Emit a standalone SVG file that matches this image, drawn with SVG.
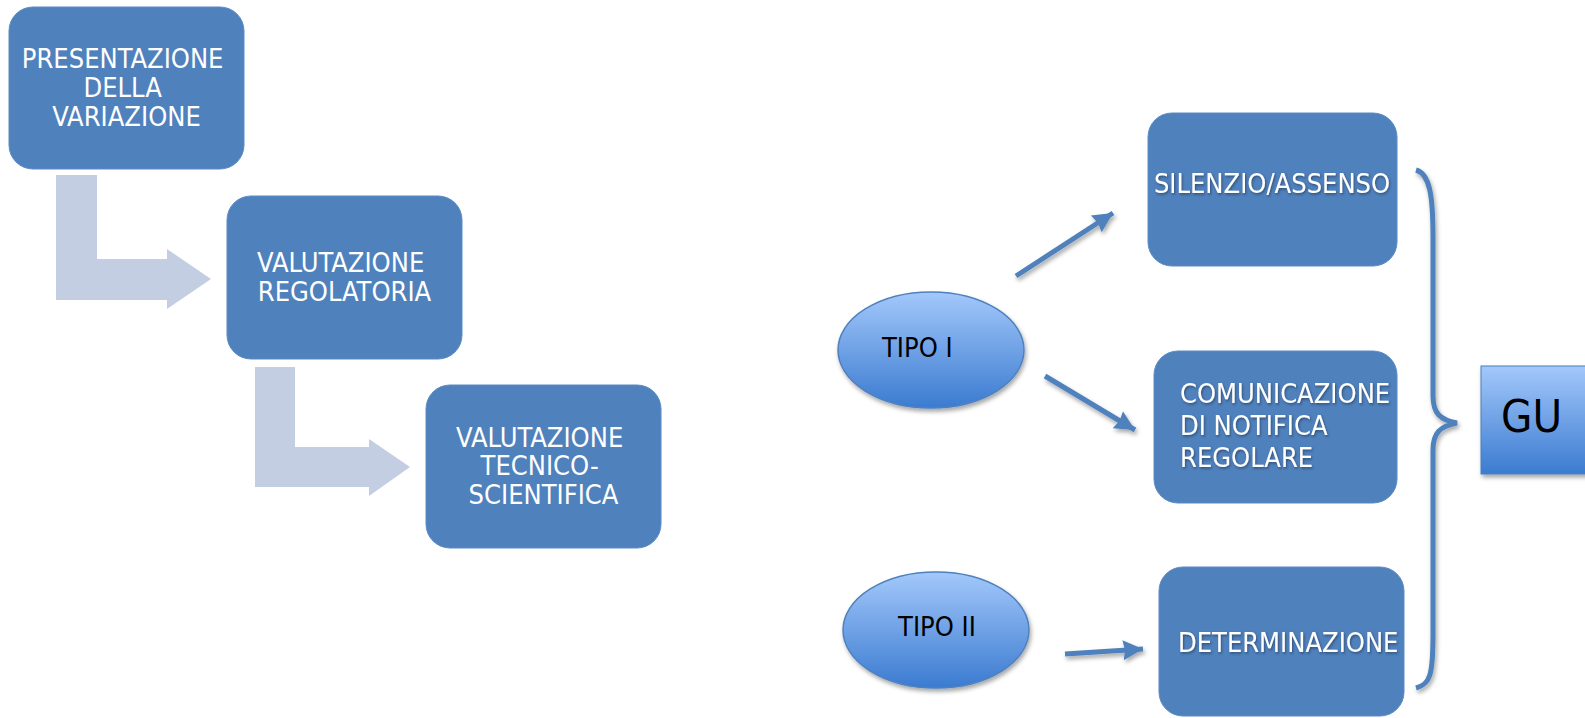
<svg xmlns="http://www.w3.org/2000/svg" width="1585" height="718" viewBox="0 0 1585 718">
  <defs>
    <linearGradient id="bubble" x1="0" y1="0" x2="0" y2="1">
      <stop offset="0" stop-color="#A3C8FB"/>
      <stop offset="1" stop-color="#3B7BD0"/>
    </linearGradient>
    <filter id="shadow" x="-20%" y="-20%" width="140%" height="150%">
      <feDropShadow dx="1.5" dy="3" stdDeviation="2" flood-color="#000" flood-opacity="0.35"/>
    </filter>
    <filter id="txtShadow" x="-5%" y="-20%" width="110%" height="150%">
      <feDropShadow dx="1" dy="1.5" stdDeviation="0.8" flood-color="#1a2a40" flood-opacity="0.6"/>
    </filter>
    <marker id="head" markerUnits="userSpaceOnUse" markerWidth="24" markerHeight="24" refX="20" refY="11" orient="auto">
      <path d="M0,1 L20,11 L0,21 L2,11 Z" fill="#4F81BD"/>
    </marker>
  </defs>
  <style>
    .box { fill: #4F81BD; stroke: #5A8BC6; stroke-width: 1; }
    .bend { fill: #C3CEE2; }
    .wt { fill: #FFFFFF; font-family: "DejaVu Sans Condensed", "DejaVu Sans", sans-serif; font-stretch: condensed; font-size: 27px; }
    .bk { fill: #000000; font-family: "DejaVu Sans Condensed", "DejaVu Sans", sans-serif; font-stretch: condensed; font-size: 27px; }
    .link { stroke: #4F81BD; stroke-width: 5; fill: none; }
  </style>

  <rect width="1585" height="718" fill="#FFFFFF"/>

  <!-- step arrows on the left -->
  <g id="steps">
    <path class="bend" d="M56,175 H97 V259 H167 V249 L211,279 L167,309 V300 H56 Z"/>
    <path class="bend" d="M255,367 H295 V447 H369 V439 L410,467 L369,496 V487 H255 Z"/>
  </g>

  <g id="presentazione">
    <rect class="box" x="9" y="7" width="235" height="162" rx="24"/>
    <text class="wt" text-anchor="middle">
      <tspan x="126.5" y="68">PRESENTAZIONE</tspan>
      <tspan x="126.5" y="97">DELLA</tspan>
      <tspan x="126.5" y="126">VARIAZIONE</tspan>
    </text>
  </g>

  <g id="regolatoria">
    <rect class="box" x="227" y="196" width="235" height="163" rx="24"/>
    <text class="wt" text-anchor="middle">
      <tspan x="344.5" y="272">VALUTAZIONE</tspan>
      <tspan x="344.5" y="301">REGOLATORIA</tspan>
    </text>
  </g>

  <g id="tecnico">
    <rect class="box" x="426" y="385" width="235" height="163" rx="24"/>
    <text class="wt" text-anchor="middle">
      <tspan x="543.5" y="447">VALUTAZIONE</tspan>
      <tspan x="543.5" y="475">TECNICO-</tspan>
      <tspan x="543.5" y="504">SCIENTIFICA</tspan>
    </text>
  </g>

  <!-- connectors on the right -->
  <g id="connectors" filter="url(#shadow)">
    <line class="link" x1="1016" y1="276" x2="1113" y2="213" marker-end="url(#head)"/>
    <line class="link" x1="1045" y1="376" x2="1135" y2="430" marker-end="url(#head)"/>
    <line class="link" x1="1065" y1="654" x2="1143" y2="649" marker-end="url(#head)"/>
    <path class="link" stroke-width="4" d="M1416,170 C1430,174 1433,196 1433,238 L1433,396 C1433,413 1440,420 1457,423 C1440,426 1433,433 1433,450 L1433,634 C1433,676 1430,684 1416,688"/>
  </g>

  <g id="tipo1">
    <ellipse cx="931" cy="350" rx="93" ry="58" fill="url(#bubble)" stroke="#4F81BD" stroke-width="1.5" filter="url(#shadow)"/>
    <text class="bk" x="882" y="357">TIPO I</text>
  </g>

  <g id="tipo2">
    <ellipse cx="936" cy="630" rx="93" ry="58" fill="url(#bubble)" stroke="#4F81BD" stroke-width="1.5" filter="url(#shadow)"/>
    <text class="bk" x="937" y="636" text-anchor="middle">TIPO II</text>
  </g>

  <g id="silenzio">
    <rect class="box" x="1148" y="113" width="249" height="153" rx="24"/>
    <text class="wt" x="1272" y="193" text-anchor="middle" filter="url(#txtShadow)">SILENZIO/ASSENSO</text>
  </g>

  <g id="comunicazione">
    <rect class="box" x="1154" y="351" width="243" height="152" rx="24"/>
    <text class="wt" filter="url(#txtShadow)">
      <tspan x="1180" y="403">COMUNICAZIONE</tspan>
      <tspan x="1180" y="435">DI NOTIFICA</tspan>
      <tspan x="1180" y="467">REGOLARE</tspan>
    </text>
  </g>

  <g id="determinazione">
    <rect class="box" x="1159" y="567" width="245" height="149" rx="24"/>
    <text class="wt" x="1178" y="652" filter="url(#txtShadow)">DETERMINAZIONE</text>
  </g>

  <g id="gu">
    <rect x="1481" y="366" width="112" height="108" fill="url(#bubble)" stroke="#4A7EBB" stroke-width="1" filter="url(#shadow)"/>
    <text x="1501" y="432" fill="#000000" font-family="DejaVu Sans Condensed, DejaVu Sans, sans-serif" font-size="45">GU</text>
  </g>
</svg>
